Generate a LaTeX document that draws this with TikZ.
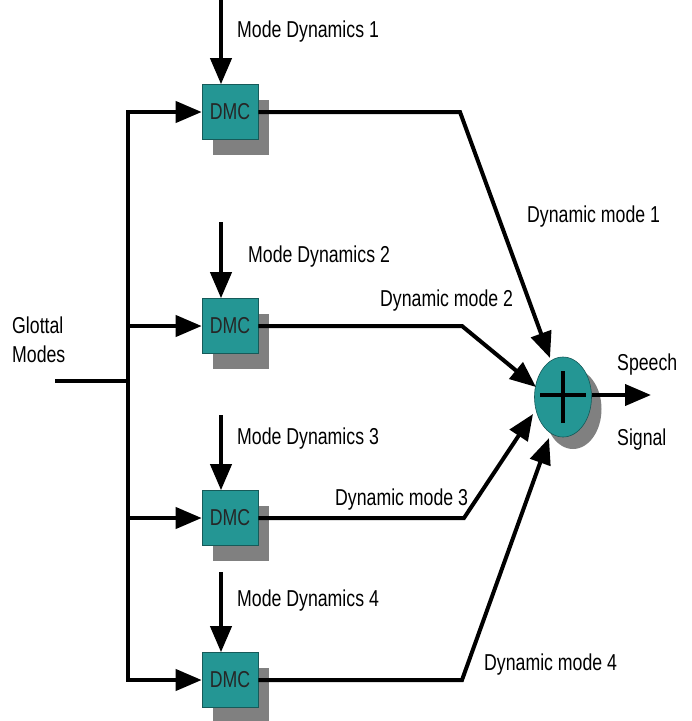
\documentclass[tikz,border=0pt]{standalone}
\usepackage{fontspec}
\setmainfont[FakeStretch=0.77]{Liberation Sans}
\usetikzlibrary{arrows.meta,shadows,shapes.geometric}
\definecolor{teal1}{RGB}{36,150,148}
\definecolor{shade}{RGB}{128,128,128}
\begin{document}
\begin{tikzpicture}[x=1pt,y=-1pt,
  txt/.style={font=\fontsize{23}{27}\selectfont, inner sep=0pt, anchor=base west},
  dmc/.style={draw=teal1!60!black, line width=0.6pt, fill=teal1, minimum width=56pt, minimum height=55pt, inner sep=0pt,
    font=\fontsize{23}{27}\selectfont, text=black!85,
    drop shadow={shadow xshift=11pt, shadow yshift=-15pt, fill=shade, opacity=1}},
  sum/.style={ellipse, draw=teal1!60!black, line width=0.6pt, fill=teal1, minimum width=57pt, minimum height=80pt, inner sep=0pt,
    drop shadow={shadow xshift=10pt, shadow yshift=-12pt, fill=shade, opacity=1}},
  wire/.style={line width=4pt, line join=miter},
  arr/.style={wire, -{Triangle[length=26pt,width=21pt]}}
]
\useasboundingbox (0,0) rectangle (692,721);
% DMC boxes
\node[dmc] (d1) at (230,112) {DMC};
\node[dmc] (d2) at (230,326) {DMC};
\node[dmc] (d3) at (230,518) {DMC};
\node[dmc] (d4) at (230,680) {DMC};
% summation
\node[sum] (s) at (563,397) {};
\draw[line width=4pt] ([yshift=-26pt]s.center) -- ([yshift=26pt]s.center);
\draw[line width=4pt] ([xshift=-23pt,yshift=2pt]s.center) -- ([xshift=23pt,yshift=2pt]s.center);
% input trunk
\coordinate (gin) at (55,381);
\coordinate (tr) at (128,381);
\coordinate (t1) at (128,112);
\coordinate (t4) at (128,680);
\draw[wire] (gin) -- (tr);
\draw[wire, line cap=butt] (t1) -- (t4);
\draw[arr] ([yshift=-2pt]t1) -- (t1) -- (d1.west);
\draw[arr] (128,326) -- (d2.west);
\draw[arr] (128,518) -- (d3.west);
\draw[arr] ([yshift=2pt]t4) -- (t4) -- (d4.west);
\node[txt] (glot) at (12,333) {Glottal};
\node[txt] (modes) at (12,362) {Modes};
% mode dynamics inputs
\coordinate (m1) at (221,0);
\coordinate (m2) at (221,222);
\coordinate (m3) at (221,415);
\coordinate (m4) at (221,572);
\draw[arr] (m1) -- (d1.north -| m1);
\draw[arr] (m2) -- (d2.north -| m2);
\draw[arr] (m3) -- (d3.north -| m3);
\draw[arr] (m4) -- (d4.north -| m4);
\node[txt] (md1) at (237,37) {Mode Dynamics 1};
\node[txt] (md2) at (248,262) {Mode Dynamics 2};
\node[txt] (md3) at (237,444) {Mode Dynamics 3};
\node[txt] (md4) at (237,606) {Mode Dynamics 4};
% outputs
\coordinate (c1) at (460,112);
\coordinate (c2) at (462,326);
\coordinate (c3) at (464,518);
\coordinate (c4) at (462,680);
\coordinate (e1) at (550,358);
\coordinate (e2) at (536,387);
\coordinate (e3) at (533,414);
\coordinate (e4) at (549,438);
\draw[arr] (d1.east) -- (c1) -- (e1);
\draw[arr] (d2.east) -- (c2) -- (e2);
\draw[arr] (d3.east) -- (c3) -- (e3);
\draw[arr] (d4.east) -- (c4) -- (e4);
\node[txt] (dm1) at (527,222) {Dynamic mode 1};
\node[txt] (dm2) at (380,306) {Dynamic mode 2};
\node[txt] (dm3) at (335,505) {Dynamic mode 3};
\node[txt] (dm4) at (484,670) {Dynamic mode 4};
% output
\coordinate (out) at (651,395);
\draw[arr] (s.east |- out) -- (out);
\node[txt] (sp) at (617,370) {Speech};
\node[txt] (sg) at (617,445) {Signal};
\end{tikzpicture}
\end{document}
